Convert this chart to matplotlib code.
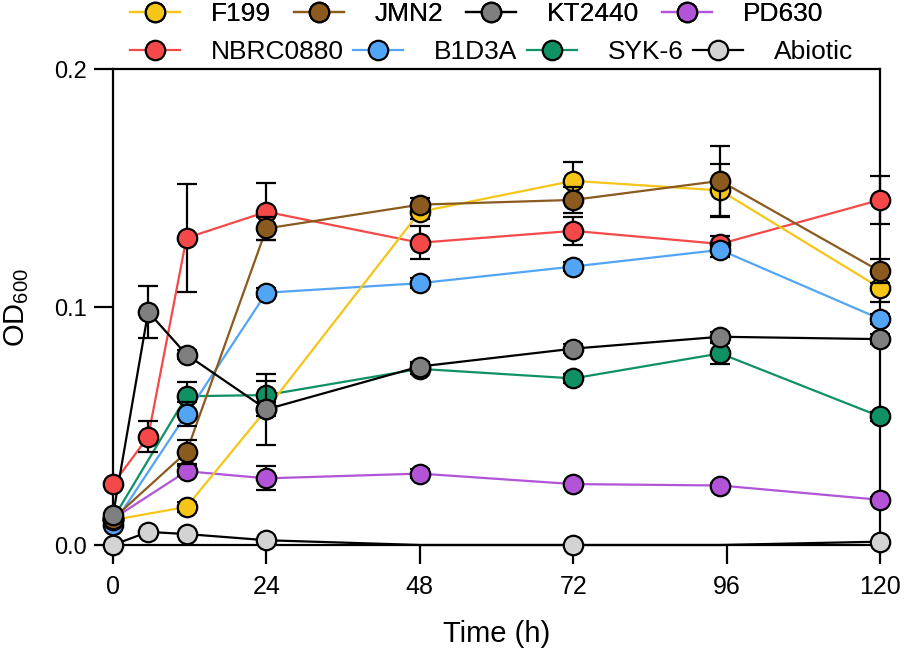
import matplotlib
matplotlib.use('Agg')
import matplotlib.pyplot as plt
from matplotlib.lines import Line2D
from matplotlib.ticker import FormatStrFormatter

plt.rcParams['font.family'] = ['Liberation Sans', 'DejaVu Sans']
plt.rcParams['mathtext.fontset'] = 'custom'
plt.rcParams['mathtext.rm'] = 'Liberation Sans'
plt.rcParams['mathtext.it'] = 'Liberation Sans:italic'

# sampling times (h); some strains have an extra early point
t_full = [0, 5.5, 11.5, 24, 48, 72, 95, 120]
t_short = [0, 11.5, 24, 48, 72, 95, 120]

f199 = [0.0105, 0.016, 0.057, 0.140, 0.153, 0.149, 0.108]
f199_err = [0.001, 0.002, 0.003, 0.003, 0.008, 0.011, 0.006]
jmn2 = [0.011, 0.039, 0.133, 0.143, 0.145, 0.153, 0.115]
jmn2_err = [0.001, 0.005, 0.005, 0.003, 0.0056, 0.0146, 0.005]
kt2440 = [0.0126, 0.098, 0.080, 0.057, 0.075, 0.0825, 0.0875, 0.0865]
kt2440_err = [0.001, 0.011, 0.002, 0.015, 0.002, 0.002, 0.002, 0.002]
pd630 = [0.011, 0.031, 0.028, 0.030, 0.0256, 0.025, 0.019]
pd630_err = [0.001, 0.002, 0.005, 0.002, 0.001, 0.001, 0.001]
nbrc0880 = [0.0256, 0.0455, 0.129, 0.140, 0.127, 0.132, 0.1265, 0.145]
nbrc0880_err = [0.001, 0.0065, 0.0225, 0.012, 0.007, 0.006, 0.0035, 0.010]
b1d3a = [0.0084, 0.055, 0.106, 0.110, 0.117, 0.124, 0.095]
b1d3a_err = [0.001, 0.005, 0.002, 0.002, 0.002, 0.003, 0.002]
syk6 = [0.011, 0.0625, 0.063, 0.074, 0.070, 0.0805, 0.054]
syk6_err = [0.001, 0.006, 0.006, 0.002, 0.002, 0.0045, 0.002]
abiotic = [0.0, 0.0055, 0.0046, 0.002, 0.0, 0.0, 0.0, 0.0014]
abiotic_err = None  # no error bars drawn for the abiotic control

# name -> times, values, errors, marker colour, line colour
series = {
    'F199': (t_short, f199, f199_err, '#F5C518', '#F5C518'),
    'JMN2': (t_short, jmn2, jmn2_err, '#8B5A1E', '#8B5A1E'),
    'KT2440': (t_full, kt2440, kt2440_err, '#7F7F7F', 'black'),
    'PD630': (t_short, pd630, pd630_err, '#B253D8', '#B253D8'),
    'NBRC0880': (t_full, nbrc0880, nbrc0880_err, '#F54848', '#F54848'),
    'B1D3A': (t_short, b1d3a, b1d3a_err, '#52A5F5', '#52A5F5'),
    'SYK-6': (t_short, syk6, syk6_err, '#0F9163', '#0F9163'),
    'Abiotic': (t_full, abiotic, abiotic_err, '#D3D3D3', 'black'),
}
draw_order = ['Abiotic', 'PD630', 'NBRC0880', 'SYK-6', 'B1D3A', 'F199', 'JMN2', 'KT2440']
row1 = ['F199', 'JMN2', 'KT2440', 'PD630']
row2 = ['NBRC0880', 'B1D3A', 'SYK-6', 'Abiotic']

fig = plt.figure(figsize=(9.05, 6.51), dpi=100)
ax = fig.add_axes([113 / 905, 1 - 545 / 651, 767 / 905, 476 / 651])

ms = 14
lw = 1.6
for name in draw_order:
    t, y, e, mc, lc = series[name]
    ax.plot(t, y, color=lc, lw=lw, zorder=2, clip_on=False)
for i, name in enumerate(draw_order):
    t, y, e, mc, lc = series[name]
    z = 3 + i
    if e is not None:
        ax.errorbar(t, y, yerr=e, fmt='none', ecolor='black', elinewidth=lw,
                    capsize=7, capthick=lw, zorder=z, clip_on=False)
    every = [0, 1, 2, 3, 5, 7] if name == 'Abiotic' else None
    ax.plot(t, y, ls='none', marker='o', ms=ms, mfc=mc, mec='black', mew=lw,
            zorder=z + 0.5, clip_on=False, markevery=every)

ax.set_xlim(0, 120)
ax.set_ylim(0, 0.2)
ax.set_xticks([0, 24, 48, 72, 96, 120])
ax.set_yticks([0, 0.1, 0.2])
ax.yaxis.set_major_formatter(FormatStrFormatter('%.1f'))
for s in ax.spines.values():
    s.set_linewidth(lw)
ax.tick_params(direction='out', length=13.5, width=lw, labelsize=17, pad=5)
ax.tick_params(axis='x', pad=8, labelsize=18)
ax.set_xlabel('Time (h)', fontsize=21, labelpad=15)
ax.set_ylabel('OD$_{600}$', fontsize=21, labelpad=17)


def make_handles(names):
    hs = []
    for n in names:
        t, y, e, mc, lc = series[n]
        hs.append(Line2D([], [], color=lc, lw=lw, marker='o', ms=ms,
                         mfc=mc, mec='black', mew=lw))
    return hs


leg1 = fig.legend(make_handles(row1), row1, ncol=4, loc='center left',
                  bbox_to_anchor=(130 / 905, 1 - 14 / 651), frameon=False,
                  fontsize=19, handlelength=1.9, handletextpad=1.17,
                  columnspacing=0.86, borderpad=0, borderaxespad=0)
leg2 = fig.legend(make_handles(row2), row2, ncol=4, loc='center left',
                  bbox_to_anchor=(130 / 905, 1 - 52 / 651), frameon=False,
                  fontsize=19, handlelength=1.9, handletextpad=1.17,
                  columnspacing=0.35, borderpad=0, borderaxespad=0)
fig.add_artist(leg1)

fig.savefig('out.png', dpi=100)
plt.close(fig)
